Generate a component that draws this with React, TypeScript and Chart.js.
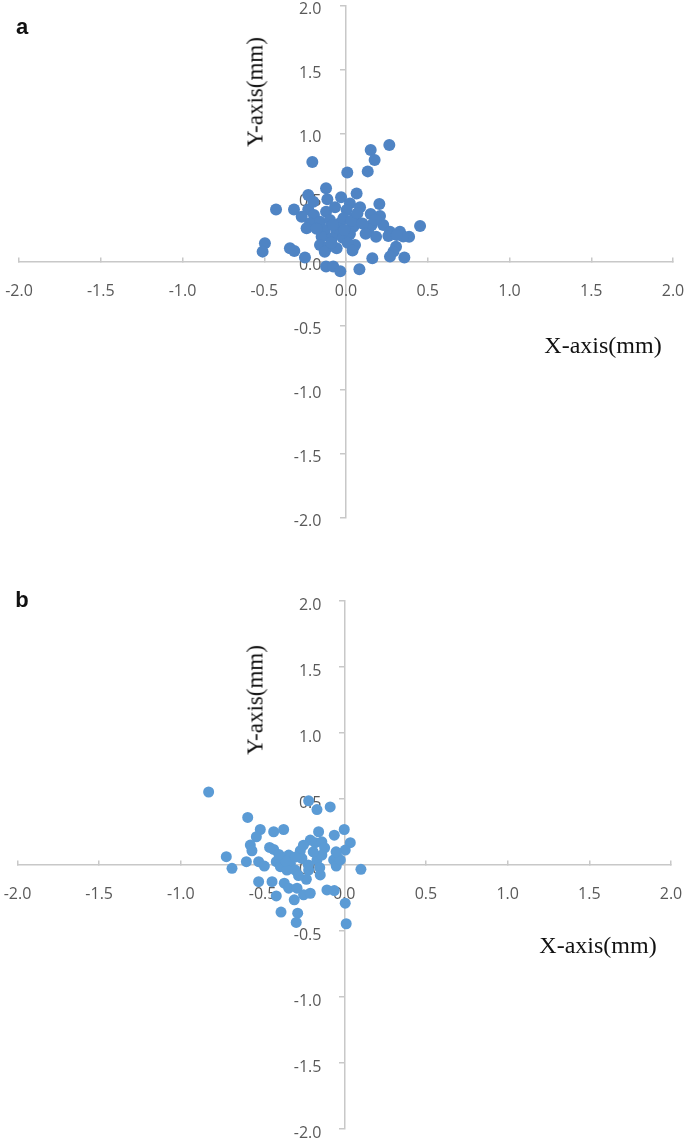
import React, { useEffect, useRef } from "react";
import { Chart, registerables } from "chart.js";
Chart.register(...registerables);

// Axis ticks shared by both panels
const tickValues = [-2, -1.5, -1, -0.5, 0, 0.5, 1, 1.5, 2];

// Panel a — displacement points (mm)
const aX = [
  -0.122, -0.231, -0.114, -0.03, -0.428, -0.318, -0.231, -0.271, -0.196, -0.122, -0.067,
  -0.22, -0.159, -0.098, -0.037, -0.241, -0.129, -0.057, -0.149, -0.088, -0.02, -0.159,
  -0.108, -0.057, -0.496, -0.51, -0.343, -0.316, -0.251, -0.122, -0.078, -0.035, -0.206,
  0.265, 0.151, 0.175, 0.008, 0.133, 0.065, 0.204, 0.024, 0.086, 0.004, 0.151, 0.208,
  0.055, -0.016, 0.228, 0.157, 0.453, 0.045, 0.137, 0.269, 0.33, 0.386, 0.184, 0.259,
  0.024, 0.055, 0.306, 0.29, 0.269, 0.357, 0.161, 0.082,
  0.03, 0.07, -0.01, 0.1, -0.18, -0.08, 0.35, 0.31, -0.2, 0.01, -0.13, -0.09, 0.12, 0.18, 0.04,
];
const aY = [
  0.576, 0.523, 0.49, 0.505, 0.411, 0.411, 0.411, 0.354, 0.367, 0.393, 0.427,
  0.302, 0.315, 0.328, 0.302, 0.263, 0.25, 0.237, 0.198, 0.185, 0.19, 0.133,
  0.12, 0.107, 0.146, 0.081, 0.107, 0.086, 0.036, -0.036, -0.036, -0.073, 0.781,
  0.914, 0.875, 0.797, 0.7, 0.708, 0.536, 0.453, 0.458, 0.427, 0.406, 0.375, 0.359,
  0.349, 0.341, 0.289, 0.289, 0.281, 0.276, 0.255, 0.237, 0.237, 0.198, 0.198, 0.203,
  0.219, 0.133, 0.12, 0.081, 0.042, 0.036, 0.029, -0.057,
  0.32, 0.38, 0.25, 0.3, 0.26, 0.29, 0.2, 0.21, 0.47, 0.15, 0.08, 0.15, 0.22, 0.33, 0.09,
];

// Panel b — displacement points (mm)
const bX = [
  -0.83, -0.218, -0.167, -0.086, -0.591, -0.514, -0.538, -0.432, -0.371, -0.157, -0.061,
  0.0, 0.037, -0.575, -0.565, -0.457, -0.432, -0.208, -0.177, -0.137, -0.722, -0.687,
  -0.599, -0.524, -0.489, -0.416, -0.391, -0.34, -0.33, -0.269, -0.259, -0.3, -0.351,
  -0.218, -0.167, -0.137, -0.147, -0.065, -0.045, -0.049, -0.024, 0.006, 0.102, -0.524,
  -0.442, -0.367, -0.34, -0.289, -0.232, -0.249, -0.208, -0.416, -0.306, -0.106, -0.061,
  0.006, -0.387, -0.285, -0.294, 0.012,
  -0.3, -0.22, -0.36, -0.12, -0.25, -0.19, -0.05, -0.4, -0.28, -0.15,
];
const bY = [
  0.553, 0.486, 0.42, 0.44, 0.36, 0.269, 0.214, 0.252, 0.269, 0.252, 0.226,
  0.269, 0.169, 0.151, 0.108, 0.133, 0.118, 0.189, 0.169, 0.176, 0.063, -0.025,
  0.025, 0.025, -0.008, 0.025, -0.013, 0.075, 0.013, 0.108, 0.05, -0.038, -0.038,
  -0.038, 0.038, 0.075, -0.075, 0.038, 0.063, -0.008, 0.038, 0.113, -0.033, -0.126,
  -0.126, -0.138, -0.176, -0.176, -0.108, -0.226, -0.214, -0.234, -0.264, -0.189, -0.194,
  -0.289, -0.357, -0.365, -0.435, -0.445,
  0.06, 0.0, 0.03, 0.13, 0.15, 0.1, 0.1, 0.08, -0.08, -0.02,
];

const AXIS_COLOR = "#c8c8c8";
const TICK_COLOR = "#595959";
const TICK_FONT = { family: "'Open Sans', 'Liberation Sans', sans-serif", size: 16 };

type PanelProps = {
  xs: number[];
  ys: number[];
  color: string;
  radius: number;
  top: number;
  height: number;
  yLabelShift: number;
  yLabelDrop: number;
  padding: { left: number; right: number; top: number; bottom: number };
};

function setTicks(scale: any) {
  scale.ticks = tickValues.map((v) => ({ value: v }));
}
const fmt = (v: any) => Number(v).toFixed(1);

function Panel({ xs, ys, color, radius, top, height, padding, yLabelShift, yLabelDrop }: PanelProps) {
  const ref = useRef<HTMLCanvasElement | null>(null);
  useEffect(() => {
    let chart: Chart | null = null;
    let cancelled = false;
    const make = () => {
      if (cancelled || !ref.current) return;
      chart = new Chart(ref.current, {
        type: "scatter",
        data: {
          datasets: [
            {
              data: xs.map((x, i) => ({ x, y: ys[i] })),
              backgroundColor: color,
              borderWidth: 0,
              pointRadius: radius,
              pointHoverRadius: radius,
            },
          ],
        },
        options: {
          animation: false,
          responsive: false,
          maintainAspectRatio: false,
          layout: { padding },
          plugins: { legend: { display: false }, tooltip: { enabled: false } },
          scales: {
            x: {
              type: "linear",
              min: -2,
              max: 2,
              position: { y: 0 } as any,
              afterBuildTicks: setTicks,
              ticks: { display: false },
              grid: { drawOnChartArea: false, drawTicks: true, tickLength: -5, color: AXIS_COLOR, lineWidth: 1.5 },
              border: { display: true, color: AXIS_COLOR, width: 1.5 },
            },
            y: {
              type: "linear",
              min: -2,
              max: 2,
              position: { x: 0 } as any,
              afterBuildTicks: setTicks,
              ticks: { display: false },
              grid: { drawOnChartArea: false, drawTicks: true, tickLength: 5, color: AXIS_COLOR, lineWidth: 1.5 },
              border: { display: true, color: AXIS_COLOR, width: 1.5 },
            },
            x2: {
              type: "linear",
              axis: "x",
              min: -2,
              max: 2,
              z: 1,
              position: { y: 0 } as any,
              afterBuildTicks: setTicks,
              ticks: { display: true, color: TICK_COLOR, font: TICK_FONT, padding: 20, maxRotation: 0, autoSkip: false, callback: fmt },
              grid: { display: false, drawTicks: false },
              border: { display: false },
            },
            y2: {
              type: "linear",
              axis: "y",
              min: -2 + yLabelDrop,
              max: 2 + yLabelDrop,
              z: 1,
              position: { x: yLabelShift } as any,
              afterBuildTicks: setTicks,
              ticks: { display: true, color: TICK_COLOR, font: TICK_FONT, padding: 0, autoSkip: false, callback: fmt },
              grid: { display: false, drawTicks: false },
              border: { display: false },
            },
          } as any,
        },
      });
    };
    if ((document as any).fonts && (document as any).fonts.load) {
      (document as any).fonts.load("16px 'Open Sans'").then(make, make);
    } else {
      make();
    }
    return () => {
      cancelled = true;
      if (chart) chart.destroy();
    };
  }, []);
  return (
    <canvas
      ref={ref}
      width={765}
      height={height}
      style={{ position: "absolute", left: -40, top, width: 765, height }}
    />
  );
}

const serif = "'Liberation Serif', 'Times New Roman', serif";
const sans = "'Liberation Sans', Arial, sans-serif";

function Label({ text, cx, cy, rotate, font, size, weight }: { text: string; cx: number; cy: number; rotate?: boolean; font: string; size: number; weight?: number }) {
  return (
    <div
      style={{
        position: "absolute",
        left: cx,
        top: cy,
        transform: `translate(-50%, -50%)${rotate ? " rotate(-90deg)" : ""}`,
        fontFamily: font,
        fontSize: size,
        fontWeight: weight || 400,
        color: "#111",
        whiteSpace: "nowrap",
        lineHeight: 1,
      }}
    >
      {text}
    </div>
  );
}

export default function App() {
  return (
    <div style={{ position: "absolute", left: 0, top: 0, width: 685, height: 1140, overflow: "hidden", background: "#fff" }}>
      <Panel xs={aX} ys={aY} color="#4f84c4" radius={6} top={-40} height={610} yLabelShift={-0.15} yLabelDrop={0.027} padding={{ left: 59, right: 52, top: 46, bottom: 52 }} />
      <Panel xs={bX} ys={bY} color="#5b9bd5" radius={5.5} top={560} height={610} yLabelShift={-0.14} yLabelDrop={0.03} padding={{ left: 57.5, right: 54, top: 41, bottom: 41 }} />
      <Label text="a" cx={22} cy={27} font={sans} size={22} weight={700} />
      <Label text="b" cx={22} cy={600} font={sans} size={22} weight={700} />
      <Label text="Y-axis(mm)" cx={255} cy={92} rotate font={serif} size={23} />
      <Label text="X-axis(mm)" cx={603} cy={345} font={serif} size={24} />
      <Label text="Y-axis(mm)" cx={255} cy={700} rotate font={serif} size={23} />
      <Label text="X-axis(mm)" cx={598} cy={945} font={serif} size={24} />
    </div>
  );
}
